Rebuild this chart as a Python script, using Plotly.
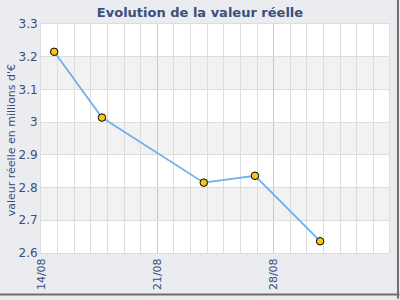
import plotly.graph_objects as go

dates = ["2023-08-14 19:00", "2023-08-17 16:00", "2023-08-23 19:00", "2023-08-26 21:00", "2023-08-30 19:00"]
values = [3.215, 3.014, 2.815, 2.836, 2.636]
y_bands = [(3.1, 3.2), (2.9, 3.0), (2.7, 2.8)]

title = "Evolution de la valeur réelle"
ytitle = "valeur réelle en millions d'€"

txt = "#3b4e7e"
font = "DejaVu Sans"

fig = go.Figure()
fig.add_trace(go.Scatter(
    x=dates, y=values, mode="lines+markers",
    line=dict(color="#6fb1f0", width=1.8),
    marker=dict(color="#f5c518", size=7.5, line=dict(color="#000000", width=1)),
    hoverinfo="skip", showlegend=False,
))

shapes = []
for lo, hi in y_bands:
    shapes.append(dict(type="rect", xref="paper", yref="y", x0=0, x1=1, y0=lo, y1=hi,
                       fillcolor="#f2f2f2", line=dict(width=0), layer="below"))

fig.update_layout(
    width=400, height=300,
    margin=dict(l=41, r=10, t=24, b=45),
    paper_bgcolor="#eaecef", plot_bgcolor="#ffffff",
    font=dict(family=font, size=11, color=txt),
    title=dict(text="<b>" + title + "</b>", x=0.5, xanchor="center", y=0.96, yanchor="middle",
               yref="container", font=dict(size=13, color=txt, family=font)),
    shapes=shapes,
    xaxis=dict(
        type="date", range=["2023-08-14 00:00", "2023-09-03 22:30"],
        tick0="2023-08-14", dtick=7 * 86400000, tickformat="%d/%m", tickangle=-90,
        showgrid=True, gridcolor="#c8c8c8", gridwidth=1,
        minor=dict(dtick=86400000, tick0="2023-08-14", showgrid=True, gridcolor="#dddddd", gridwidth=1),
        zeroline=False, showline=True, linecolor="#dddddd", mirror=True,
        ticks="", tickfont=dict(size=11, color=txt),
    ),
    yaxis=dict(
        range=[2.6, 3.3], dtick=0.1, tick0=2.6,
        showgrid=True, gridcolor="#dddddd", gridwidth=1,
        zeroline=False, showline=True, linecolor="#dddddd", mirror=True,
        ticks="", tickfont=dict(size=12, color=txt),
    ),
    annotations=[dict(text=ytitle, xref="paper", yref="paper", x=0, y=0.49, xshift=-38,
                      textangle=-90, showarrow=False, font=dict(size=11, color=txt, family=font))],
)

# outer border shadow (right and bottom)
fig.add_shape(type="line", xref="paper", yref="paper", x0=1.0258, x1=1.0258, y0=-0.2, y1=1.12,
              line=dict(color="#6f6f6f", width=2))
fig.add_shape(type="line", xref="paper", yref="paper", x0=-0.12, x1=1.03, y0=-0.181, y1=-0.181,
              line=dict(color="#6f6f6f", width=2))

fig.write_html("out.html")
